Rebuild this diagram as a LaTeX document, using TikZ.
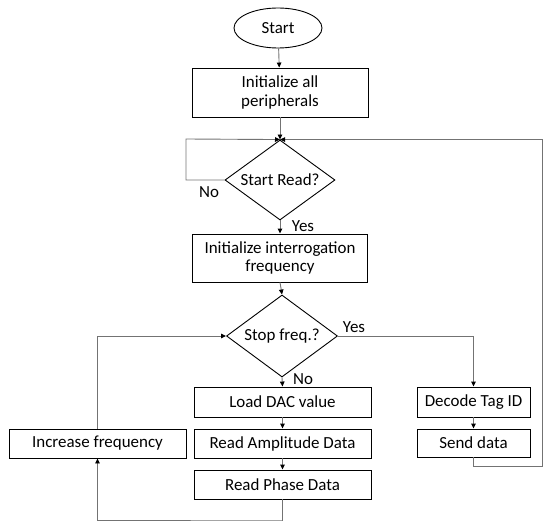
\documentclass[tikz,border=0pt]{standalone}
\usepackage{fontspec}
\setmainfont{Carlito}
\usetikzlibrary{shapes.geometric,arrows.meta}
\begin{document}
\begin{tikzpicture}[x=1bp,y=-1bp,
  every node/.style={font=\fontsize{17}{19}\selectfont},
  box/.style={draw=black,line width=0.9bp,rectangle,inner sep=0pt,align=center,fill=white},
  dec/.style={draw=black,line width=0.9bp,diamond,inner sep=0pt},
  term/.style={draw=black,line width=0.9bp,ellipse,inner sep=0pt},
  conn/.style={draw=black!55,line width=0.9bp},
  arr/.style={conn,-{Triangle[length=5bp,width=4.5bp,color=black]}},
  lbl/.style={inner sep=0pt}]
\useasboundingbox (0,0) rectangle (550,526);
\node[term,minimum width=88bp,minimum height=40bp] (start) at (278,28) {Start};
\node[box,minimum width=176bp,minimum height=49bp] (init) at (280,92.5) {Initialize all\\peripherals};
\node[dec,minimum width=110bp,minimum height=80bp] (read) at (280,180) {};
\node[lbl] (readtxt) at (read.center) {Start Read?};
\node[box,minimum width=175bp,minimum height=48bp] (initf) at (280,258) {Initialize interrogation\\frequency};
\node[dec,minimum width=111bp,minimum height=82bp] (stop) at (282,336) {};
\node[lbl] (stoptxt) at (stop.center) {Stop freq.?};
\node[box,minimum width=177bp,minimum height=30bp] (load) at (282.5,402) {Load DAC value};
\node[box,minimum width=177bp,minimum height=29bp] (amp) at (282.5,443.5) {Read Amplitude Data};
\node[box,minimum width=177bp,minimum height=29bp] (phase) at (282.5,484.5) {Read Phase Data};
\node[box,minimum width=177bp,minimum height=29bp] (incr) at (97.5,443.5) {Increase frequency};
\node[box,minimum width=113bp,minimum height=30bp] (decode) at (473.5,402) {Decode Tag ID};
\node[box,minimum width=113bp,minimum height=28bp] (send) at (473.5,443) {Send data};
\node[lbl] (no1) at (209,192) {No};
\node[lbl] (yes1) at (303,226) {Yes};
\node[lbl] (yes2) at (354,327) {Yes};
\node[lbl] (no2) at (303,379) {No};
\coordinate (lefttop) at (186,139);
\coordinate (rightbot) at (542,466);
\coordinate (phasebot) at (282,520);
\draw[arr] (start) -- (init);
\draw[arr] (init) -- (read.north);
\draw[arr] (read.west) -| (lefttop) -- (read.north);
\draw[arr] (send.south) |- (rightbot) |- (read.north);
\draw[arr] (read.south) -- (initf.north);
\draw[arr] (initf.south) -- (stop.north);
\draw[arr] (stop.east) -| (decode.north);
\draw[arr] (stop.south) -- (load.north);
\draw[arr] (load) -- (amp);
\draw[arr] (amp) -- (phase);
\draw[arr] (decode) -- (send);
\draw[arr] (phase.south) |- (phasebot) -| (incr.south);
\draw[arr] (incr.north) |- (stop.west);
\end{tikzpicture}
\end{document}
